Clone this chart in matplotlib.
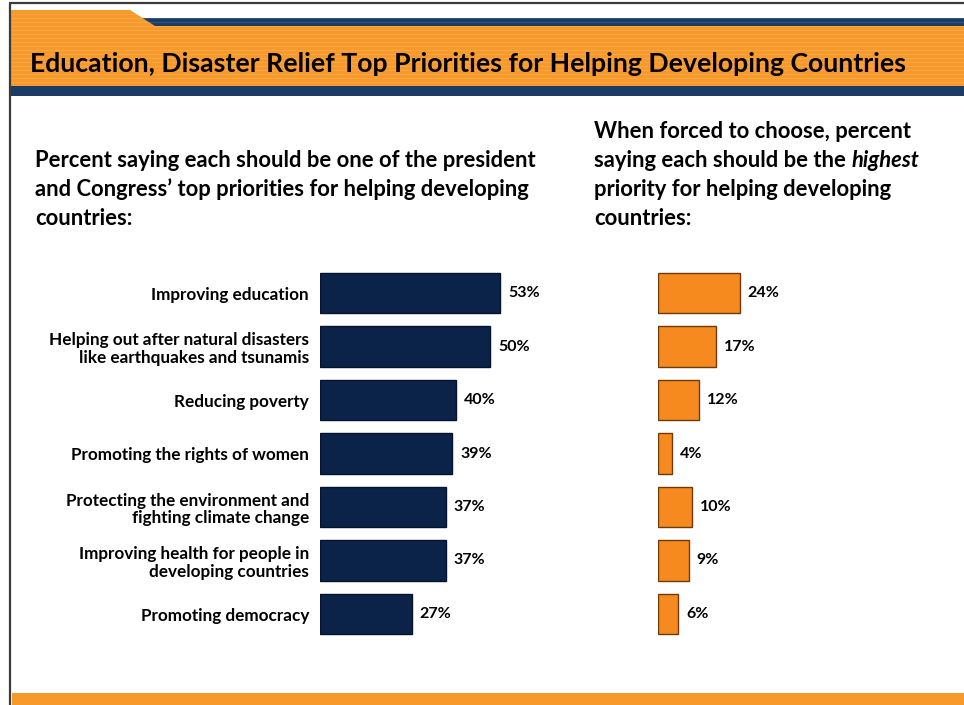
import matplotlib
matplotlib.use("Agg")
import matplotlib.pyplot as plt
from matplotlib.patches import Rectangle, Polygon

# ---- data ----
categories = [
    "Improving education",
    "Helping out after natural disasters\nlike earthquakes and tsunamis",
    "Reducing poverty",
    "Promoting the rights of women",
    "Protecting the environment and\nfighting climate change",
    "Improving health for people in\ndeveloping countries",
    "Promoting democracy",
]
top_priority = [53, 50, 40, 39, 37, 37, 27]
highest_priority = [24, 17, 12, 4, 10, 9, 6]

title = "Education, Disaster Relief Top Priorities for Helping Developing Countries"
left_heading = [
    "Percent saying each should be one of the president",
    "and Congress\u2019 top priorities for helping developing",
    "countries:",
]
right_heading = [
    ("When forced to choose, percent", None),
    ("saying each should be the ", "highest"),
    ("priority for helping developing", None),
    ("countries:", None),
]

# ---- style ----
FONT = "Lato"
NAVY = "#0B2349"
NAVY_EDGE = "#05142E"
BAND_NAVY = "#1B3C66"
ORANGE = "#F7992B"
BAR_ORANGE = "#F68A1F"
BAR_ORANGE_EDGE = "#6E3A0C"

W, H = 964, 705
fig = plt.figure(figsize=(W / 100, H / 100), dpi=100)
fig.patch.set_facecolor("white")

# full-figure canvas in pixel units for the frame and header
bg = fig.add_axes([0, 0, 1, 1])
bg.set_xlim(0, W)
bg.set_ylim(H, 0)
bg.axis("off")

# frame lines
bg.plot([9, W], [3, 3], color="#3A3A3A", lw=1.6, solid_capstyle="butt")
bg.plot([10, 10], [3, H], color="#3A3A3A", lw=1.6, solid_capstyle="butt")

# header: navy strip, orange tab and band, navy rule underneath
bg.add_patch(Rectangle((140, 18), W - 140, 8, color=BAND_NAVY, lw=0))
bg.add_patch(Polygon([(11, 10), (130, 10), (155, 26), (W, 26), (W, 86), (11, 86)],
                     closed=True, color=ORANGE, lw=0))
for y in range(14, 86, 4):
    bg.plot([11, W], [y, y], color="white", alpha=0.13, lw=0.7)
bg.add_patch(Rectangle((11, 86), W - 11, 10, color=BAND_NAVY, lw=0))

# footer band
bg.add_patch(Rectangle((12, 693), W - 12, 12, color=ORANGE, lw=0))

# title
bg.text(30, 72, title, fontsize=19.2, fontweight="bold", family=FONT,
        color="black", va="baseline", ha="left")

# left heading
HEAD_SIZE = 15.8
for i, line in enumerate(left_heading):
    bg.text(35, 167 + 29 * i, line, fontsize=HEAD_SIZE, fontweight="bold",
            family=FONT, va="baseline", ha="left")

# right heading (one word in italics)
renderer = fig.canvas.get_renderer()
for i, (line, italic) in enumerate(right_heading):
    t = bg.text(594, 138 + 29 * i, line, fontsize=HEAD_SIZE, fontweight="bold",
                family=FONT, va="baseline", ha="left")
    if italic:
        bb = t.get_window_extent(renderer=renderer)
        bg.text(bb.x1, H - (138 + 29 * i), italic, fontsize=HEAD_SIZE,
                fontweight="bold", style="italic", family=FONT,
                va="baseline", ha="left", transform=None)

# ---- bar panels ----
PX_PER_PCT = 180 / 53
XMAX = 60
axw = XMAX * PX_PER_PCT / W
y_top, y_bot = 266.25, 640.75
axb = 1 - y_bot / H
axh = (y_bot - y_top) / H

rows = list(range(len(categories)))

def panel(left_px, values, color, edge):
    ax = fig.add_axes([left_px / W, axb, axw, axh])
    ax.barh(rows, values, height=0.75, color=color, edgecolor=edge, linewidth=1.0)
    ax.set_xlim(0, XMAX)
    ax.set_ylim(len(rows) - 0.5, -0.5)
    for s in ax.spines.values():
        s.set_visible(False)
    ax.set_xticks([])
    ax.patch.set_alpha(0)
    for r, v in zip(rows, values):
        ax.annotate(f"{v}%", (v, r), xytext=(5.8, 0), textcoords="offset points",
                    ha="left", va="center", fontsize=11.5, fontweight="bold",
                    family=FONT, color="black")
    return ax

axl = panel(320, top_priority, NAVY, NAVY_EDGE)
axl.set_yticks(rows)
axl.set_yticklabels(categories, fontsize=12.3, fontweight="bold", family=FONT,
                    linespacing=1.15)
axl.tick_params(axis="y", length=0, pad=7.9)

axr = panel(658, highest_priority, BAR_ORANGE, BAR_ORANGE_EDGE)
axr.set_yticks([])

fig.savefig("out.png", dpi=100, facecolor="white")
